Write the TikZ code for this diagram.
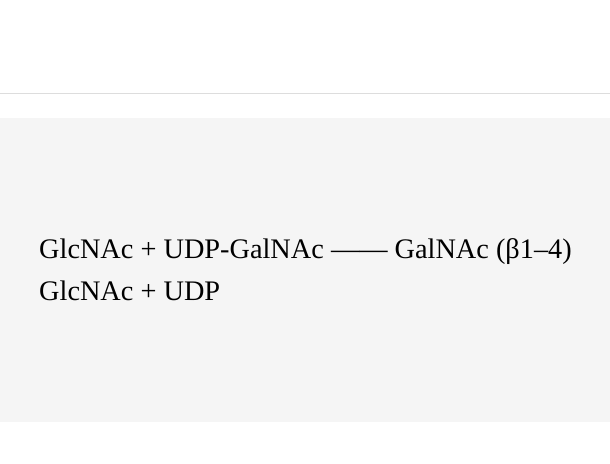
\documentclass[tikz,border=0pt]{standalone}
\usepackage{fontspec}
\setmainfont{Liberation Serif}
\begin{document}
\begin{tikzpicture}[x=1pt,y=-1pt]
\tikzset{rxn/.style={anchor=base west,inner sep=0pt,font=\fontsize{28.3}{32}\selectfont}}
\useasboundingbox (0,0) rectangle (610,463);
% rule and panel
\draw[draw={rgb,255:red,221;green,221;blue,221}] (0,93.5) -- (610,93.5);
\fill[fill={rgb,255:red,245;green,245;blue,245}] (0,118) rectangle (610,422);
% Text Node
\node[rxn] (top) at (39,258) {GlcNAc + UDP-GalNAc —— GalNAc (β1–4)};
% Text Node
\node[rxn] (bot) at (39,300) {GlcNAc + UDP};
\end{tikzpicture}
\end{document}
